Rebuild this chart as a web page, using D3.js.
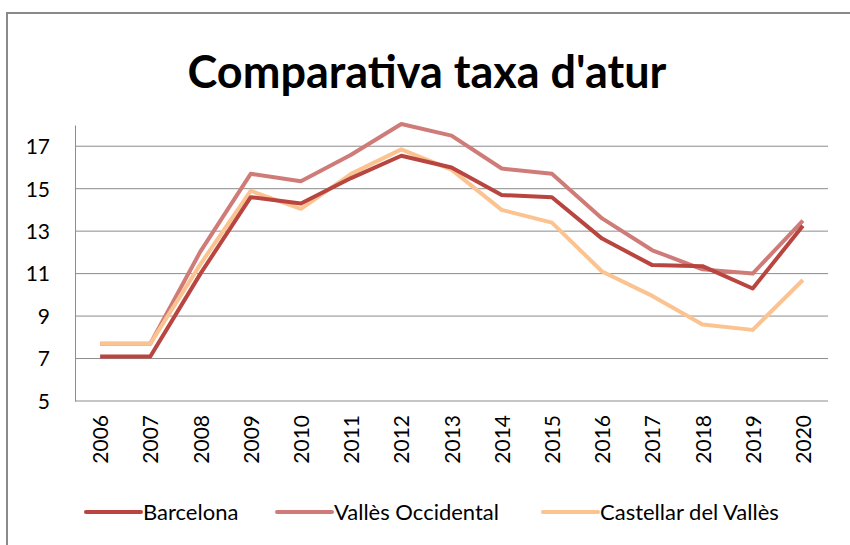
<!DOCTYPE html>
<html>
<head>
<meta charset="utf-8">
<style>
body {margin: 0; background: #fff;}
text {font-family: Lato, "Open Sans", sans-serif; fill: #000;}
</style>
<script src="https://d3js.org/d3.v7.min.js"></script>
</head>
<body>
<svg id="chart" width="850" height="545"></svg>
<script>
// data
var years = ["2006","2007","2008","2009","2010","2011","2012","2013","2014","2015","2016","2017","2018","2019","2020"];
var barcelona = [7.1, 7.1, 11.0, 14.6, 14.3, 15.5, 16.55, 16.0, 14.7, 14.6, 12.65, 11.4, 11.35, 10.3, 13.25];
var valles = [7.7, 7.7, 12.05, 15.7, 15.35, 16.6, 18.05, 17.5, 15.95, 15.7, 13.6, 12.1, 11.2, 11.0, 13.5];
var castellar = [7.7, 7.7, 11.45, 14.9, 14.05, 15.7, 16.85, 15.9, 14.0, 13.4, 11.1, 9.95, 8.6, 8.35, 10.7];
var seriesNames = ["Barcelona", "Vallès Occidental", "Castellar del Vallès"];
var seriesColors = ["#b8453f", "#cf7b78", "#fbc38f"];
var yTicks = [5, 7, 9, 11, 13, 15, 17];

var svg = d3.select("#chart");

// outer frame (cropped at right and bottom)
svg.append("path")
  .attr("d", "M7,545 L7,13 L850,13")
  .attr("fill", "none")
  .attr("stroke", "#8a8a8a")
  .attr("stroke-width", 2);

svg.append("text")
  .attr("x", 427).attr("y", 88)
  .attr("text-anchor", "middle")
  .style("font-size", "45px")
  .style("font-weight", "bold")
  .text("Comparativa taxa d'atur");

var plotLeft = 75, plotRight = 828, plotTop = 125, plotBottom = 401;

var x = d3.scalePoint().domain(years).range([plotLeft, plotRight]).padding(0.5);
var y = d3.scaleLinear().domain([5, 18]).range([plotBottom, plotTop]);

// gridlines
svg.append("g").selectAll("line")
  .data(yTicks)
  .enter().append("line")
    .attr("x1", plotLeft).attr("x2", plotRight)
    .attr("y1", function(d) { return y(d); })
    .attr("y2", function(d) { return y(d); })
    .attr("stroke", "#8c8c8c")
    .attr("stroke-width", 1);

// y axis
var yAxis = svg.append("g")
  .attr("transform", "translate(" + plotLeft + ",0)")
  .call(d3.axisLeft(y).tickValues(yTicks).tickSize(0).tickPadding(25));
yAxis.select(".domain").attr("stroke", "#8c8c8c");
yAxis.selectAll("text")
  .style("font-size", "21px")
  .style("font-family", "Lato, sans-serif")
  .attr("dy", "0.35em");

// x axis labels rotated
var xAxis = svg.append("g")
  .attr("transform", "translate(0," + plotBottom + ")")
  .call(d3.axisBottom(x).tickSize(0));
xAxis.select(".domain").remove();
xAxis.selectAll("text")
  .style("font-size", "21px")
  .style("font-family", "Lato, sans-serif")
  .attr("text-anchor", "end")
  .attr("transform", "rotate(-90)")
  .attr("x", -14)
  .attr("y", 0)
  .attr("dy", "0.36em");

var line = d3.line()
  .x(function(d, i) { return x(years[i]); })
  .y(function(d) { return y(d); });

var allSeries = [barcelona, valles, castellar];
// draw pink first, then peach, then dark red on top like the reference
var order = [1, 2, 0];
order.forEach(function(k) {
  svg.append("path")
    .datum(allSeries[k])
    .attr("d", line)
    .attr("fill", "none")
    .attr("stroke", seriesColors[k])
    .attr("stroke-width", 4)
    .attr("stroke-linejoin", "round");
});

// legend
var legendX = [86, 277, 543];
var legend = svg.append("g").selectAll("g")
  .data(seriesNames)
  .enter().append("g")
    .attr("transform", function(d, i) { return "translate(" + legendX[i] + ",512)"; });
legend.append("line")
  .attr("x1", 0).attr("x2", 55)
  .attr("stroke", function(d, i) { return seriesColors[i]; })
  .attr("stroke-width", 4)
  .attr("stroke-linecap", "round");
legend.append("text")
  .attr("x", 57)
  .attr("dy", "0.35em")
  .style("font-size", "22px")
  .text(function(d) { return d; });
</script>
</body>
</html>
